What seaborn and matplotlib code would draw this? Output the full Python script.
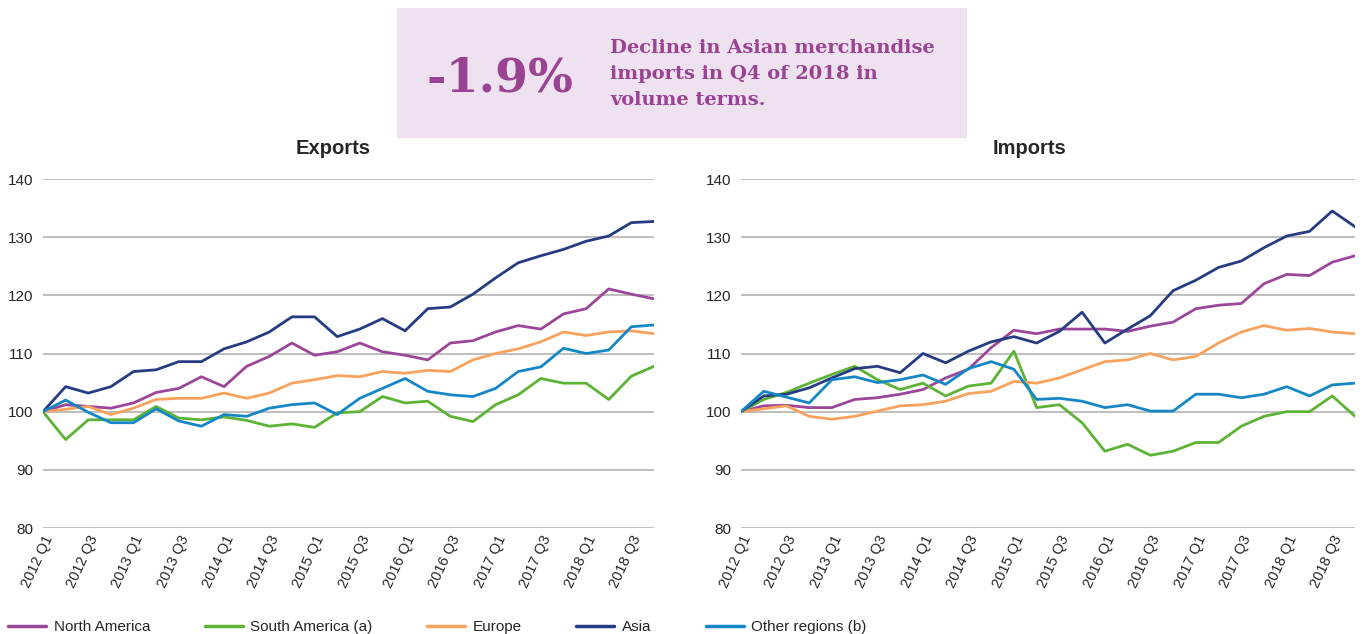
import matplotlib
matplotlib.use("Agg")
import matplotlib.pyplot as plt
from matplotlib.patches import Rectangle
import numpy as np
import pandas as pd
import seaborn as sns

# Quarters 2012 Q1 - 2018 Q4
quarters = [f"{y} Q{q}" for y in range(2012, 2019) for q in range(1, 5)]

# Exports volume index (2012 Q1 = 100)
exp_north_america = [100, 101.2, 100.9, 100.6, 101.5, 103.3, 104.0, 106.0, 104.3, 107.8, 109.5, 111.8, 109.7, 110.3,
                     111.8, 110.3, 109.7, 108.9, 111.8, 112.2, 113.7, 114.8, 114.2, 116.8, 117.7, 121.1, 120.2, 119.4]
exp_south_america = [100, 95.2, 98.6, 98.6, 98.6, 100.9, 98.9, 98.6, 99.1, 98.5, 97.5, 97.9, 97.3, 99.8,
                     100.0, 102.6, 101.5, 101.8, 99.2, 98.3, 101.2, 102.9, 105.7, 104.9, 104.9, 102.1, 106.1, 107.8]
exp_europe = [100, 100.4, 100.9, 99.5, 100.6, 102.1, 102.3, 102.3, 103.2, 102.3, 103.2, 104.9, 105.5, 106.2,
              106.0, 106.9, 106.6, 107.1, 106.9, 108.9, 110.0, 110.8, 112.0, 113.7, 113.1, 113.7, 113.9, 113.4]
exp_asia = [100, 104.3, 103.2, 104.3, 106.9, 107.2, 108.6, 108.6, 110.8, 112.0, 113.7, 116.3, 116.3, 112.9,
            114.2, 116.0, 113.9, 117.7, 118.0, 120.2, 123.0, 125.6, 126.8, 127.9, 129.3, 130.2, 132.5, 132.7]
exp_other = [100, 102.0, 99.9, 98.1, 98.1, 100.5, 98.4, 97.5, 99.5, 99.2, 100.6, 101.2, 101.5, 99.5,
             102.3, 104.0, 105.7, 103.5, 102.9, 102.6, 104.0, 106.9, 107.7, 110.9, 110.0, 110.6, 114.6, 114.9]

# Imports volume index (2012 Q1 = 100)
imp_north_america = [100, 101.0, 101.1, 100.7, 100.7, 102.1, 102.4, 103.0, 103.8, 105.8, 107.3, 111.0, 114.0, 113.4,
                     114.2, 114.2, 114.2, 113.8, 114.7, 115.4, 117.7, 118.3, 118.6, 122.0, 123.6, 123.4, 125.7, 126.8]
imp_south_america = [100, 102.1, 103.3, 104.9, 106.4, 107.8, 105.5, 103.8, 104.9, 102.7, 104.4, 104.9, 110.4, 100.7,
                     101.2, 98.1, 93.2, 94.4, 92.5, 93.2, 94.7, 94.7, 97.5, 99.2, 100.0, 100.0, 102.7, 99.2]
imp_europe = [100, 100.5, 101.0, 99.2, 98.7, 99.2, 100.1, 101.0, 101.2, 101.8, 103.1, 103.5, 105.2, 104.9,
              105.8, 107.2, 108.6, 108.9, 110.0, 108.9, 109.5, 111.8, 113.7, 114.8, 114.0, 114.3, 113.7, 113.4]
imp_asia = [100, 102.7, 103.0, 104.1, 105.8, 107.4, 107.8, 106.7, 110.0, 108.4, 110.4, 112.0, 112.9, 111.8,
            113.8, 117.1, 111.8, 114.2, 116.5, 120.8, 122.6, 124.8, 125.9, 128.2, 130.2, 131.0, 134.5, 131.8]
imp_other = [100, 103.5, 102.5, 101.5, 105.5, 106.0, 105.0, 105.5, 106.3, 104.7, 107.4, 108.6, 107.3, 102.1,
             102.3, 101.8, 100.7, 101.2, 100.1, 100.1, 103.0, 103.0, 102.4, 103.0, 104.3, 102.7, 104.6, 104.9]

regions = ["North America", "South America (a)", "Europe", "Asia", "Other regions (b)"]
colores = ["#9c469a", "#5cb335", "#f8a25d", "#263c82", "#1587c6"]


def armar_df(series):
    filas = []
    for region, valores in zip(regions, series):
        for i, v in enumerate(valores):
            filas.append({"q": i, "region": region, "valor": v})
    return pd.DataFrame(filas)


df_exp = armar_df([exp_north_america, exp_south_america, exp_europe, exp_asia, exp_other])
df_imp = armar_df([imp_north_america, imp_south_america, imp_europe, imp_asia, imp_other])

sns.set_style("white")
plt.rcParams["font.family"] = ["Liberation Sans", "DejaVu Sans"]

W, H = 1362, 634
fig = plt.figure(figsize=(W / 100, H / 100), dpi=100)

purpura = "#9b4393"

# Caja de texto destacada
fig.patches.append(Rectangle((397 / W, 1 - 138 / H), 570 / W, 130 / H, transform=fig.transFigure,
                             facecolor="#eee2f0", edgecolor="none", zorder=0))
fig.text(500 / W, 1 - 78 / H, "-1.9%", color=purpura, fontsize=34, fontweight="bold",
         family="DejaVu Serif", ha="center", va="center")
fig.text(610 / W, 1 - 74 / H, "Decline in Asian merchandise\nimports in Q4 of 2018 in\nvolume terms.",
         color=purpura, fontsize=14, fontweight="bold", family="DejaVu Serif",
         ha="left", va="center", linespacing=1.58)

paneles = [("Exports", df_exp, 43, 654, 333), ("Imports", df_imp, 741, 1355, 1030)]
ticks = list(range(0, 28, 2))

for titulo, df, x0, x1, xt in paneles:
    ax = fig.add_axes([x0 / W, 1 - 528 / H, (x1 - x0) / W, (528 - 179) / H])
    sns.lineplot(data=df, x="q", y="valor", hue="region", hue_order=regions, palette=colores,
                 linewidth=2.0, ax=ax, legend=True)
    ax.set_xlim(0, 27)
    ax.set_ylim(80, 140)
    ax.set_yticks([80, 90, 100, 110, 120, 130, 140])
    ax.set_xticks(ticks)
    ax.set_xticklabels([quarters[i] for i in ticks], rotation=65, ha="right", rotation_mode="anchor",
                       fontsize=10.5)
    ax.tick_params(axis="y", labelsize=11, length=0, pad=7)
    ax.tick_params(axis="x", length=0, pad=4)
    ax.grid(axis="y", color="#b3b3b3", linewidth=1.2)
    ax.grid(axis="x", visible=False)
    ax.set_axisbelow(True)
    for s in ax.spines.values():
        s.set_visible(False)
    ax.set_xlabel("")
    ax.set_ylabel("")
    handles, labels = ax.get_legend_handles_labels()
    ax.get_legend().remove()
    fig.text(xt / W, 1 - 148 / H, titulo, fontsize=14.5, fontweight="bold", ha="center", va="center")

leg = fig.legend(handles, labels, loc="center left", bbox_to_anchor=(8 / W, 1 - 627 / H), ncol=5,
                 frameon=False, fontsize=11, handlelength=2.5, handletextpad=0.5, columnspacing=3.55,
                 borderpad=0, borderaxespad=0)
for l in leg.get_lines():
    l.set_linewidth(2.5)

fig.savefig("out.png", dpi=100)
